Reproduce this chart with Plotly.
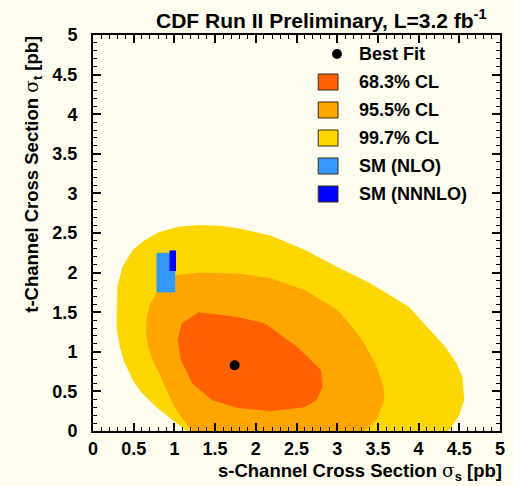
import plotly.graph_objects as go

# Confidence-level contours in the (sigma_s, sigma_t) plane, boundaries in pb
cl997_s = [1.15, 1.00, 0.78, 0.60, 0.49, 0.38, 0.33, 0.29, 0.29, 0.30, 0.36, 0.49, 0.62, 0.81, 1.05,
           1.30, 1.55, 1.78, 2.18, 2.60, 3.00, 3.40, 3.88, 4.10, 4.33, 4.47, 4.54, 4.56, 4.50, 4.37]
cl997_t = [0.00, 0.12, 0.30, 0.48, 0.64, 0.88, 1.06, 1.30, 1.49, 1.82, 2.07, 2.29, 2.40, 2.51, 2.58,
           2.60, 2.59, 2.56, 2.47, 2.29, 2.07, 1.87, 1.57, 1.32, 1.06, 0.85, 0.68, 0.39, 0.20, 0.00]

cl955_s = [1.22, 1.10, 1.00, 0.89, 0.80, 0.73, 0.67, 0.65, 0.66, 0.70, 0.78, 0.90, 1.02, 1.30,
           1.78, 2.18, 2.60, 3.00, 3.18, 3.33, 3.47, 3.57, 3.58, 3.48, 3.33]
cl955_t = [0.00, 0.15, 0.30, 0.56, 0.75, 0.90, 1.10, 1.24, 1.45, 1.60, 1.74, 1.87, 1.97, 2.00,
           1.99, 1.93, 1.78, 1.53, 1.32, 1.11, 0.85, 0.56, 0.39, 0.14, 0.00]

cl683_s = [1.30, 1.09, 1.04, 1.08, 1.22, 1.46, 1.78, 2.18, 2.60, 2.75, 2.82, 2.80, 2.51, 2.11, 1.78]
cl683_t = [1.50, 1.36, 1.15, 0.90, 0.60, 0.39, 0.29, 0.25, 0.30, 0.39, 0.56, 0.77, 1.06, 1.36, 1.44]

# Best fit point
best_s = [1.74]
best_t = [0.83]

# Standard Model predictions (s range, t range)
sm_nlo_s = [0.78, 1.01]
sm_nlo_t = [1.75, 2.25]
sm_nnnlo_s = [0.94, 1.02]
sm_nnnlo_t = [2.02, 2.28]

tick_vals = [0, 0.5, 1, 1.5, 2, 2.5, 3, 3.5, 4, 4.5, 5]
tick_text = ["0", "0.5", "1", "1.5", "2", "2.5", "3", "3.5", "4", "4.5", "5"]

legend_labels = ["68.3% CL", "95.5% CL", "99.7% CL", "SM (NLO)", "SM (NNNLO)"]

C683 = "#ff6000"
C955 = "#ffa500"
C997 = "#ffd700"
CNLO = "#3399ff"
CNNNLO = "#0000ff"
BG = "#fffdf0"
FONT = "Liberation Sans"

W, H = 513, 486
L, R, T, B = 93, 8, 35, 55
PW, PH = W - L - R, H - T - B


def px(x):
    return (x - L) / PW


def py(y):
    return (H - B - y) / PH


fig = go.Figure()


def closed(a):
    return list(a) + [a[0]]


for xs, ys, col in [(cl997_s, cl997_t, C997), (cl955_s, cl955_t, C955), (cl683_s, cl683_t, C683)]:
    fig.add_trace(go.Scatter(x=closed(xs), y=closed(ys), mode="lines", fill="toself",
                             fillcolor=col, line=dict(width=0, color=col),
                             hoverinfo="skip", showlegend=False))

for xs, ys, col in [(sm_nlo_s, sm_nlo_t, CNLO), (sm_nnnlo_s, sm_nnnlo_t, CNNNLO)]:
    fig.add_shape(type="rect", xref="x", yref="y", x0=xs[0], x1=xs[1], y0=ys[0], y1=ys[1],
                  fillcolor=col, line=dict(width=0), layer="above")

fig.add_trace(go.Scatter(x=best_s, y=best_t, mode="markers",
                         marker=dict(color="black", size=10), showlegend=False))

# Hand-built legend box
row0, step = 54, 28
fig.add_shape(type="circle", xref="paper", yref="paper",
              x0=px(335), x1=px(345), y0=py(row0 + 5), y1=py(row0 - 5),
              fillcolor="black", line=dict(width=0))
fig.add_annotation(x=px(360), y=py(row0), xref="paper", yref="paper", text="Best Fit",
                   showarrow=False, xanchor="left", yanchor="middle",
                   font=dict(family=FONT, size=18, color="black", weight="bold"))
for i, (lab, col) in enumerate(zip(legend_labels, [C683, C955, C997, CNLO, CNNNLO])):
    yc = row0 + step * (i + 1)
    fig.add_shape(type="rect", xref="paper", yref="paper",
                  x0=px(321), x1=px(341), y0=py(yc + 8), y1=py(yc - 8),
                  fillcolor=col, line=dict(width=1, color="#3a2a10"))
    fig.add_annotation(x=px(360), y=py(yc), xref="paper", yref="paper", text=lab,
                       showarrow=False, xanchor="left", yanchor="middle",
                       font=dict(family=FONT, size=18, color="black", weight="bold"))

# Titles
fig.add_annotation(x=px(155), y=py(19), xref="paper", yref="paper",
                   text="CDF Run II Preliminary, L=3.2 fb<sup>-1</sup>",
                   showarrow=False, xanchor="left", yanchor="middle",
                   font=dict(family=FONT, size=21, color="black", weight="bold"))
sig = "<span style=\"font-family:'DejaVu Serif';font-weight:normal\">σ</span>"
fig.add_annotation(x=px(509), y=py(472), xref="paper", yref="paper",
                   text="s-Channel Cross Section " + sig + "<sub>s</sub> [pb]",
                   showarrow=False, xanchor="right", yanchor="middle",
                   font=dict(family=FONT, size=18.5, color="black", weight="bold"))
fig.add_annotation(x=px(32), y=py(174), xref="paper", yref="paper",
                   text="t-Channel Cross Section " + sig + "<sub>t</sub> [pb]",
                   textangle=-90, showarrow=False, xanchor="center", yanchor="middle",
                   font=dict(family=FONT, size=18.5, color="black", weight="bold"))

axis_common = dict(range=[0, 5], tickvals=tick_vals, ticktext=tick_text,
                   ticks="inside", ticklen=8, tickwidth=1.5, tickcolor="black",
                   showline=True, linecolor="black", linewidth=2, mirror="allticks",
                   showgrid=False, zeroline=False,
                   minor=dict(dtick=0.1, tick0=0, ticks="inside", ticklen=4,
                              tickwidth=1.2, tickcolor="black"),
                   tickfont=dict(family=FONT, size=18, color="black", weight="bold"))

fig.update_xaxes(**axis_common, ticklabelstandoff=0)
fig.update_yaxes(**axis_common, ticklabelstandoff=10)

fig.update_layout(width=W, height=H, margin=dict(l=L, r=R, t=T, b=B),
                  paper_bgcolor=BG, plot_bgcolor=BG, showlegend=False)

fig.write_html("out.html")
